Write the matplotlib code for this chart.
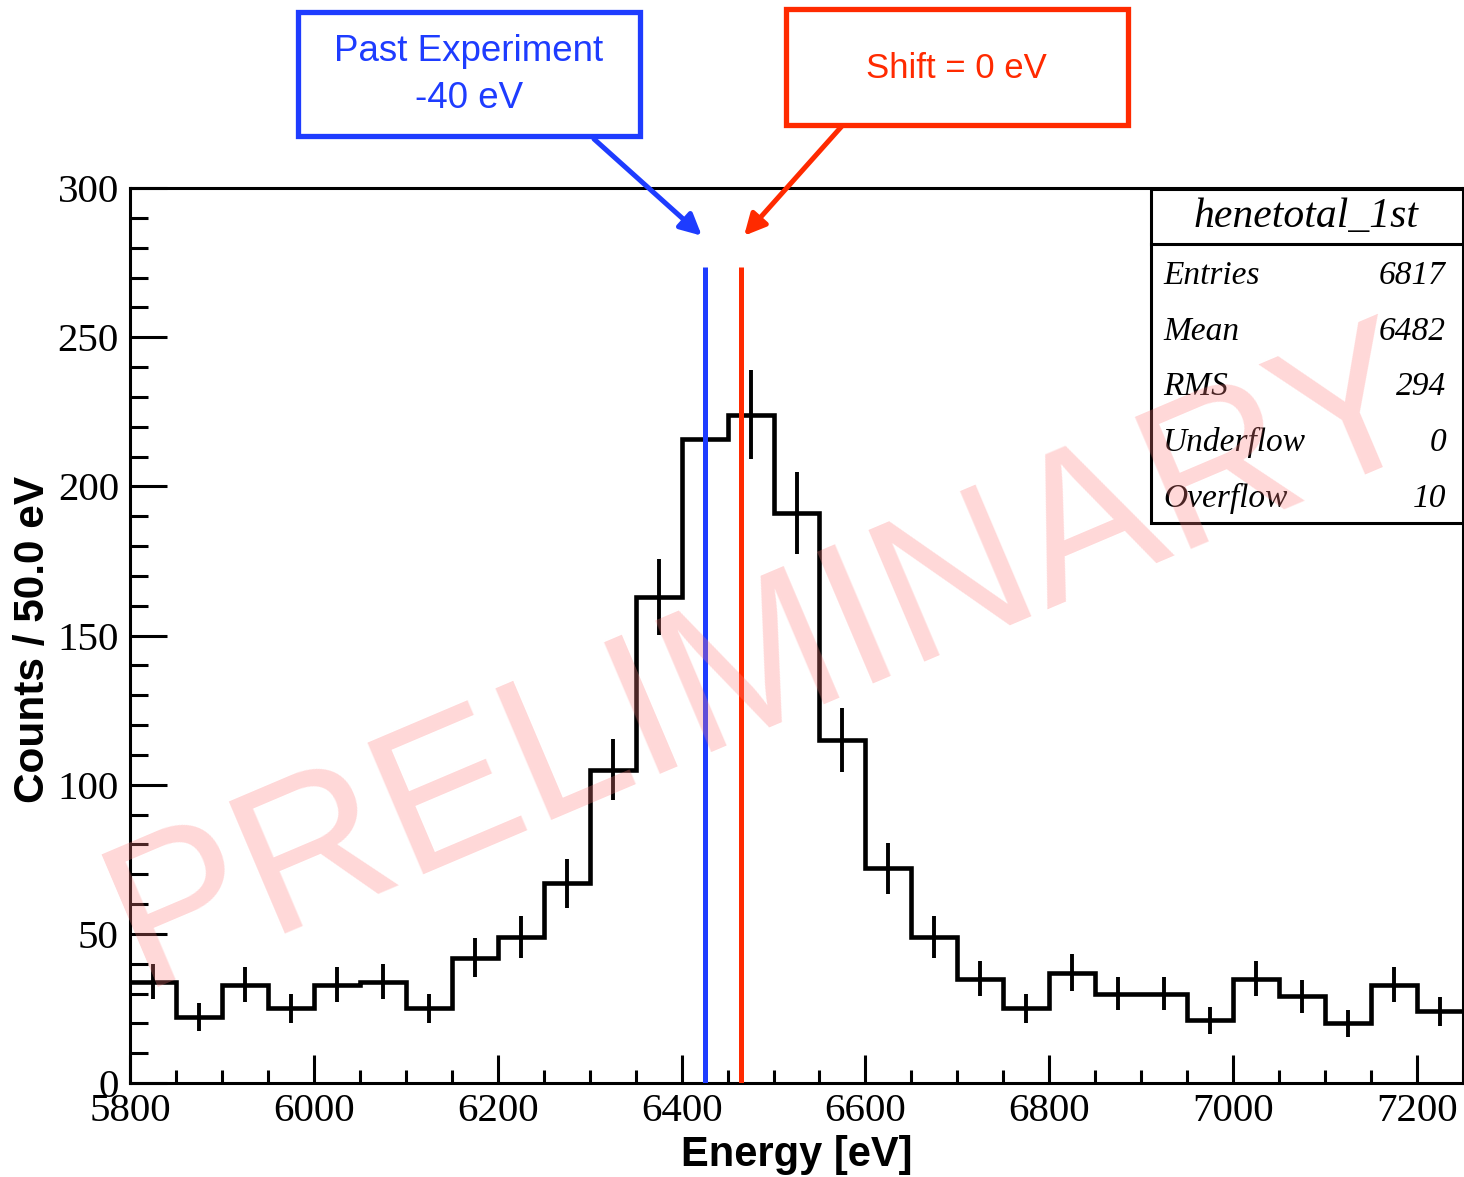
import numpy as np
import matplotlib
matplotlib.use("Agg")
import matplotlib.pyplot as plt
from matplotlib.patches import Rectangle
from matplotlib.lines import Line2D
from matplotlib.ticker import MultipleLocator

# histogram contents (50 eV bins starting at 5800 eV)
bin_lo = 5800
bin_width = 50
counts = [34, 22, 33, 25, 33, 34, 25, 42, 49, 67,
          105, 163, 216, 224, 191, 115, 72, 49, 35, 25,
          37, 30, 30, 21, 35, 29, 20, 33, 24]

# reference line energies
shift_line = 6465          # Shift = 0 eV
past_line = shift_line - 40  # past experiment, -40 eV
line_top = 273.5

# stats box entries
hist_name = "henetotal_1st"
stat_names = ["Entries", "Mean", "RMS", "Underflow", "Overflow"]
stat_values = ["6817", "6482", "294", "0", "10"]

x_ticks = [5800, 6000, 6200, 6400, 6600, 6800, 7000, 7200]
y_ticks = [0, 50, 100, 150, 200, 250, 300]

BLUE = "#1e3cff"
RED = "#ff2a00"
SERIF = ["Liberation Serif", "DejaVu Serif"]
SANS = ["Liberation Sans", "DejaVu Sans"]

W, H = 1464, 1177


def px(x, y):
    """pixel position (from top-left) -> figure fraction"""
    return x / W, 1 - y / H


fig = plt.figure(figsize=(W / 100, H / 100), dpi=100)
ax = fig.add_axes([130 / W, 1 - 1083 / H, (1463 - 130) / W, (1083 - 188) / H])

counts = np.array(counts, dtype=float)
edges = bin_lo + bin_width * np.arange(len(counts) + 1)
centers = 0.5 * (edges[:-1] + edges[1:])

ax.stairs(counts, edges, baseline=None, color="black", lw=3.3, zorder=3)
ax.errorbar(centers, counts, yerr=np.sqrt(counts), fmt="none",
            ecolor="black", elinewidth=2.8, capsize=0, zorder=3)

ax.vlines([past_line], 0, line_top, color=BLUE, lw=3.6, zorder=4)
ax.vlines([shift_line], 0, line_top, color=RED, lw=3.6, zorder=4)

ax.set_xlim(edges[0], edges[-1])
ax.set_ylim(0, 300)
ax.set_xticks(x_ticks)
ax.set_yticks(y_ticks)
ax.xaxis.set_minor_locator(MultipleLocator(50))
ax.yaxis.set_minor_locator(MultipleLocator(10))
ax.tick_params(axis="x", which="major", direction="in", length=20, width=2.2,
               labelsize=29.5, pad=7, top=False)
ax.tick_params(axis="x", which="minor", direction="in", length=9.4, width=2.2, top=False)
ax.tick_params(axis="y", which="major", direction="in", length=26.6, width=2.2,
               labelsize=29.5, pad=8, right=False)
ax.tick_params(axis="y", which="minor", direction="in", length=13, width=2.2, right=False)
for lab in ax.get_xticklabels() + ax.get_yticklabels():
    lab.set_family(SERIF)
for sp in ax.spines.values():
    sp.set_linewidth(2.2)

fig.text(*px(797, 1155), "Energy [eV]", ha="center", va="center",
         fontsize=30, fontweight="bold", family=SANS)
fig.text(*px(33, 639), "Counts / 50.0 eV", ha="center", va="center",
         rotation=90, fontsize=30.5, fontweight="bold", family=SANS)

# stats box
x0, y0, x1, y1 = 1151, 189, 1463, 523
bx, by = px(x0, y1)
fig.add_artist(Rectangle((bx, by), (x1 - x0) / W, (y1 - y0) / H,
                         transform=fig.transFigure, facecolor="white",
                         edgecolor="black", lw=2.2, zorder=5))
sx0, sy = px(x0, 244)
sx1, _ = px(x1, 244)
fig.add_artist(Line2D([sx0, sx1], [sy, sy], transform=fig.transFigure,
                      color="black", lw=2.2, zorder=6))
fig.text(*px(1306, 217), hist_name, ha="center", va="center", fontsize=30,
         style="italic", family=SERIF, zorder=6)
for i, (name, val) in enumerate(zip(stat_names, stat_values)):
    yy = 276 + i * 55.6
    fig.text(*px(1163, yy), name, ha="left", va="center", fontsize=24,
             style="italic", family=SERIF, zorder=6)
    fig.text(*px(1446, yy), val, ha="right", va="center", fontsize=24,
             style="italic", family=SERIF, zorder=6)

# annotation boxes with arrows
for (bx0, by0, bx1, by1), col, txt, tx, ty, fs in [
        ((298, 12, 640, 136), BLUE, "Past Experiment\n-40 eV", 469, 75, 26.5),
        ((786, 9, 1128, 125), RED, "Shift = 0 eV", 956, 68, 25)]:
    fx, fy = px(bx0, by1)
    fig.add_artist(Rectangle((fx, fy), (bx1 - bx0) / W, (by1 - by0) / H,
                             transform=fig.transFigure, facecolor="white",
                             edgecolor=col, lw=3.8, zorder=5))
    fig.text(*px(tx, ty), txt, ha="center", va="center", color=col,
             fontsize=fs, family=SANS, linespacing=1.45, zorder=6)

ax.annotate("", xy=(past_line - 3, 284), xycoords="data",
            xytext=px(594, 139), textcoords="figure fraction",
            arrowprops=dict(arrowstyle="-|>", color=BLUE, lw=3.6,
                            mutation_scale=32, shrinkA=0, shrinkB=0),
            annotation_clip=False, zorder=6)
ax.annotate("", xy=(shift_line + 3, 284), xycoords="data",
            xytext=px(842, 126), textcoords="figure fraction",
            arrowprops=dict(arrowstyle="-|>", color=RED, lw=3.6,
                            mutation_scale=32, shrinkA=0, shrinkB=0),
            annotation_clip=False, zorder=6)

# watermark
fig.text(*px(768, 662), "PRELIMINARY", ha="center", va="center",
         rotation=23, rotation_mode="anchor", fontsize=150,
         color="#ff7f7f", alpha=0.3, family=SANS, zorder=10)

fig.savefig("out.png", dpi=100)
